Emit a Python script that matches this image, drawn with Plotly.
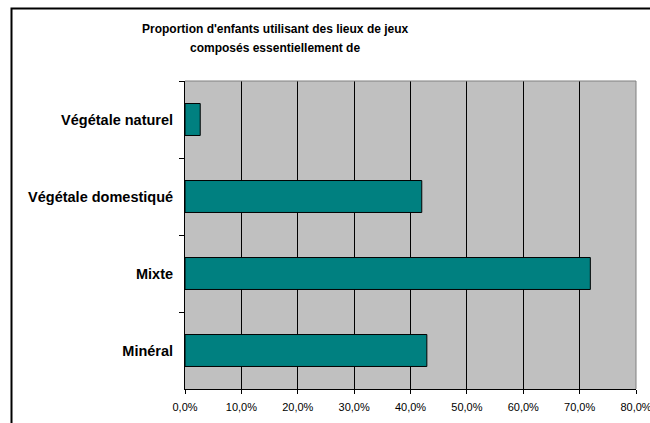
import plotly.graph_objects as go

categories = ["Végétale naturel", "Végétale domestiqué", "Mixte", "Minéral"]
values = [0.027, 0.420, 0.719, 0.429]
x_ticks = [0.0, 0.1, 0.2, 0.3, 0.4, 0.5, 0.6, 0.7, 0.8]
title_lines = ["Proportion d'enfants utilisant des lieux de jeux", "composés essentiellement de"]

W, H = 650, 423
L, R, T, B = 185, 14, 81, 34
pw, ph = W - L - R, H - T - B

def px_x(p):
    return (p - L) / pw

def px_y(p):
    return (H - B - p) / ph

fig = go.Figure(go.Bar(
    x=values, y=categories, orientation="h",
    marker=dict(color="#008080", line=dict(color="#000000", width=1)),
))

annotations = []
for line, yc in zip(title_lines, [29, 48]):
    annotations.append(dict(
        text="<b>" + line + "</b>", x=px_x(275), y=px_y(yc),
        xref="paper", yref="paper", xanchor="center", yanchor="middle",
        showarrow=False, font=dict(size=12, color="black"),
    ))

fig.update_layout(
    width=W, height=H,
    margin=dict(l=L, r=R, t=T, b=B, pad=0, autoexpand=False),
    paper_bgcolor="white", plot_bgcolor="#C0C0C0",
    separators=", ",
    bargap=0.585,
    showlegend=False,
    font=dict(family="Liberation Sans, Arial, sans-serif", color="black"),
    annotations=annotations,
    xaxis=dict(
        range=[0, 0.8], tickvals=x_ticks, tickformat=".1%",
        showgrid=True, gridcolor="black", gridwidth=1,
        ticks="outside", ticklen=4, tickcolor="black",
        showline=True, linecolor="black", linewidth=1,
        tickfont=dict(size=11, color="black"),
        zeroline=False, automargin=False,
        ticklabeloverflow="allow",
        ticklabelstandoff=4,
    ),
    yaxis=dict(
        categoryorder="array", categoryarray=categories, autorange="reversed",
        ticks="outside", ticklen=5, tickcolor="black", tickson="boundaries",
        showline=True, linecolor="black", linewidth=1,
        showgrid=False, automargin=False,
        tickfont=dict(size=14.5, color="black"),
        ticklabelstandoff=8,
        tickprefix="<b>", ticksuffix="</b>",
    ),
    shapes=[
        dict(type="rect", xref="paper", yref="paper",
             x0=px_x(11.5), x1=px_x(700), y0=px_y(500), y1=px_y(8.5),
             line=dict(color="black", width=2), fillcolor="rgba(0,0,0,0)", layer="above"),
        dict(type="line", xref="paper", yref="paper",
             x0=1, x1=1, y0=0, y1=1, line=dict(color="#808080", width=1)),
        dict(type="line", xref="paper", yref="paper",
             x0=0, x1=1, y0=1, y1=1, line=dict(color="#808080", width=1)),
    ],
)

fig.write_html(
    "out.html",
    config={"displayModeBar": False},
    post_script="document.body.style.margin='0';document.body.style.overflow='hidden';",
)
